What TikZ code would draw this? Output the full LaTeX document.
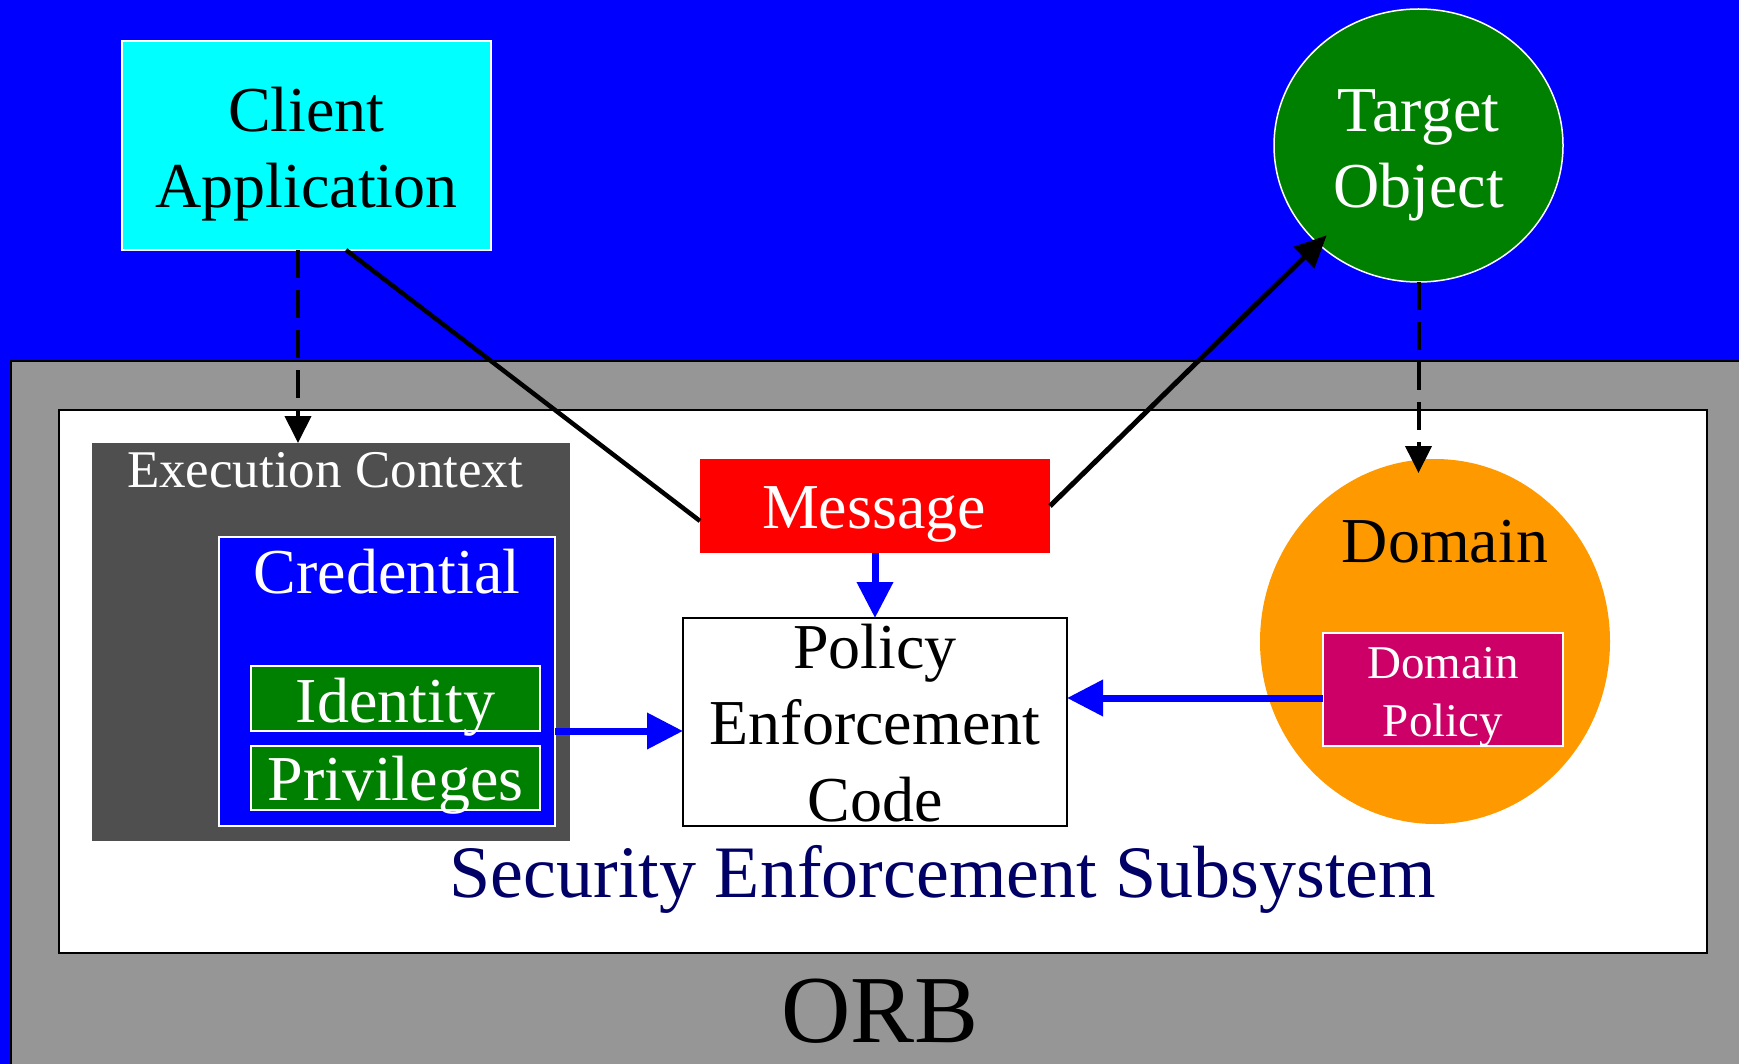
\documentclass[tikz,border=0pt]{standalone}
\usepackage{fontspec}
\setmainfont{Liberation Serif}
\usetikzlibrary{arrows.meta,shapes.geometric,calc}

\definecolor{bgblue}{HTML}{0000FF}
\definecolor{clientcyan}{HTML}{00FFFF}
\definecolor{objgreen}{HTML}{008000}
\definecolor{orbgray}{HTML}{969696}
\definecolor{ctxgray}{HTML}{4F4F4F}
\definecolor{msgred}{HTML}{FF0000}
\definecolor{domorange}{HTML}{FF9900}
\definecolor{policymag}{HTML}{CC0066}
\definecolor{sesnavy}{HTML}{000066}

\begin{document}
\begin{tikzpicture}[x=0.5pt,y=-0.5pt,
  box/.style={rectangle, inner sep=0pt, outer sep=0pt},
  oval/.style={ellipse, inner sep=0pt, outer sep=0pt},
  txt/.style={inner sep=0pt, anchor=base, align=center,
              font=\fontsize{32}{38.25}\selectfont},
  smalltxt/.style={txt, font=\fontsize{23.5}{29}\selectfont},
  dasharrow/.style={draw=black, line width=2pt, dash pattern=on 14pt off 6pt,
                    -{Triangle[length=13.5pt,width=13pt]}},
  blackline/.style={draw=black, line width=2.25pt},
  blackarrow/.style={draw=black, line width=2.5pt,
                     -{Triangle[length=16pt,width=14.5pt]}},
  bluearrow/.style={draw=bgblue, line width=3.5pt,
                    -{Triangle[length=18pt,width=17.5pt]}}
]
\useasboundingbox (0,0) rectangle (1739,1064);
\clip (0,0) rectangle (1739,1064);

% backdrop
\fill[bgblue] (0,0) rectangle (1739,1064);

% ORB layer
\filldraw[fill=orbgray, draw=black, line width=0.75pt] (11,361) rectangle (1760,1090);
\node[txt, font=\fontsize{48}{56}\selectfont] (orblabel) at (880,1042) {ORB};

% security enforcement subsystem
\node[box, fill=white, draw=black, line width=0.75pt,
      minimum width=824pt, minimum height=271.5pt] (ses) at (883,681.5) {};
\node[txt, font=\fontsize{37}{44}\selectfont, text=sesnavy] (seslabel) at (943,897)
  {Security Enforcement Subsystem};

% execution context with credential
\node[box, fill=ctxgray, minimum width=239pt, minimum height=199pt] (ec) at (331,642) {};
\node[txt, font=\fontsize{26.5}{32}\selectfont, text=white] (eclabel) at (325,487)
  {Execution Context};
\node[box, fill=bgblue, draw=white, line width=0.6pt,
      minimum width=168pt, minimum height=144.5pt] (cred) at (387,681.5) {};
\node[txt, text=white] (credlabel) at (387,593) {Credential};
\node[box, fill=objgreen, draw=white, line width=0.6pt,
      minimum width=144.5pt, minimum height=32.5pt] (idn) at (395.5,698.5) {};
\node[txt, text=white] (idnlabel) at (395.5,722) {Identity};
\node[box, fill=objgreen, draw=white, line width=0.6pt,
      minimum width=144.5pt, minimum height=32pt] (prv) at (395.5,778) {};
\node[txt, text=white] (prvlabel) at (395.5,800) {Privileges};

% message and policy enforcement code
\node[box, fill=msgred, minimum width=175pt, minimum height=47pt] (msg) at (875,506) {};
\node[txt, text=white] (msglabel) at (874,528) {Message};
\node[box, fill=white, draw=black, line width=0.75pt,
      minimum width=192pt, minimum height=104pt] (pec) at (875,722) {};
% multi-line labels sit on the baseline of their last line
\node[txt] (peclabel) at (875,821) {Policy\\Enforcement\\Code};

% domain
\node[oval, fill=domorange, minimum width=175pt, minimum height=182.5pt] (dom) at (1435,641.5) {};
\node[txt] (domlabel) at (1445,562) {Domain};
\node[box, fill=policymag, draw=white, line width=0.6pt,
      minimum width=120pt, minimum height=56.5pt] (dp) at (1443,689.5) {};
\node[smalltxt, text=white] (dplabel) at (1443,736) {Domain\\Policy};

% client and target
\node[box, fill=clientcyan, draw=white, line width=0.75pt,
      minimum width=184.5pt, minimum height=104.5pt] (client) at (306.5,145.5) {};
\node[txt] (clientlabel) at (306.5,208) {Client\\Application};
\node[oval, fill=objgreen, draw=white, line width=0.75pt,
      minimum width=144.5pt, minimum height=136.5pt] (target) at (1418.5,145.5) {};
\node[txt, text=white] (targetlabel) at (1418.5,208) {Target\\Object};

% connectors
\draw[dasharrow] ([xshift=-4.25pt]client.south) -- ([xshift=-16.5pt]ec.north);
\draw[blackline] ([xshift=19.75pt]client.south) -- ([yshift=-7.5pt]msg.west);
\draw[blackarrow, shorten >=-6pt] (msg.east) -- (target);
\draw[dasharrow] (target.south) -- ([xshift=-8.25pt,yshift=-7pt]dom.north);
\draw[bluearrow] (msg.south) -- (pec.north);
\draw[bluearrow] (cred.east |- idn.south) -- (pec.west |- idn.south);
\coordinate (dpout) at ([yshift=-4.25pt]dp.west);
\draw[bluearrow] (dpout) -- (pec.east |- dpout);
\end{tikzpicture}
\end{document}
